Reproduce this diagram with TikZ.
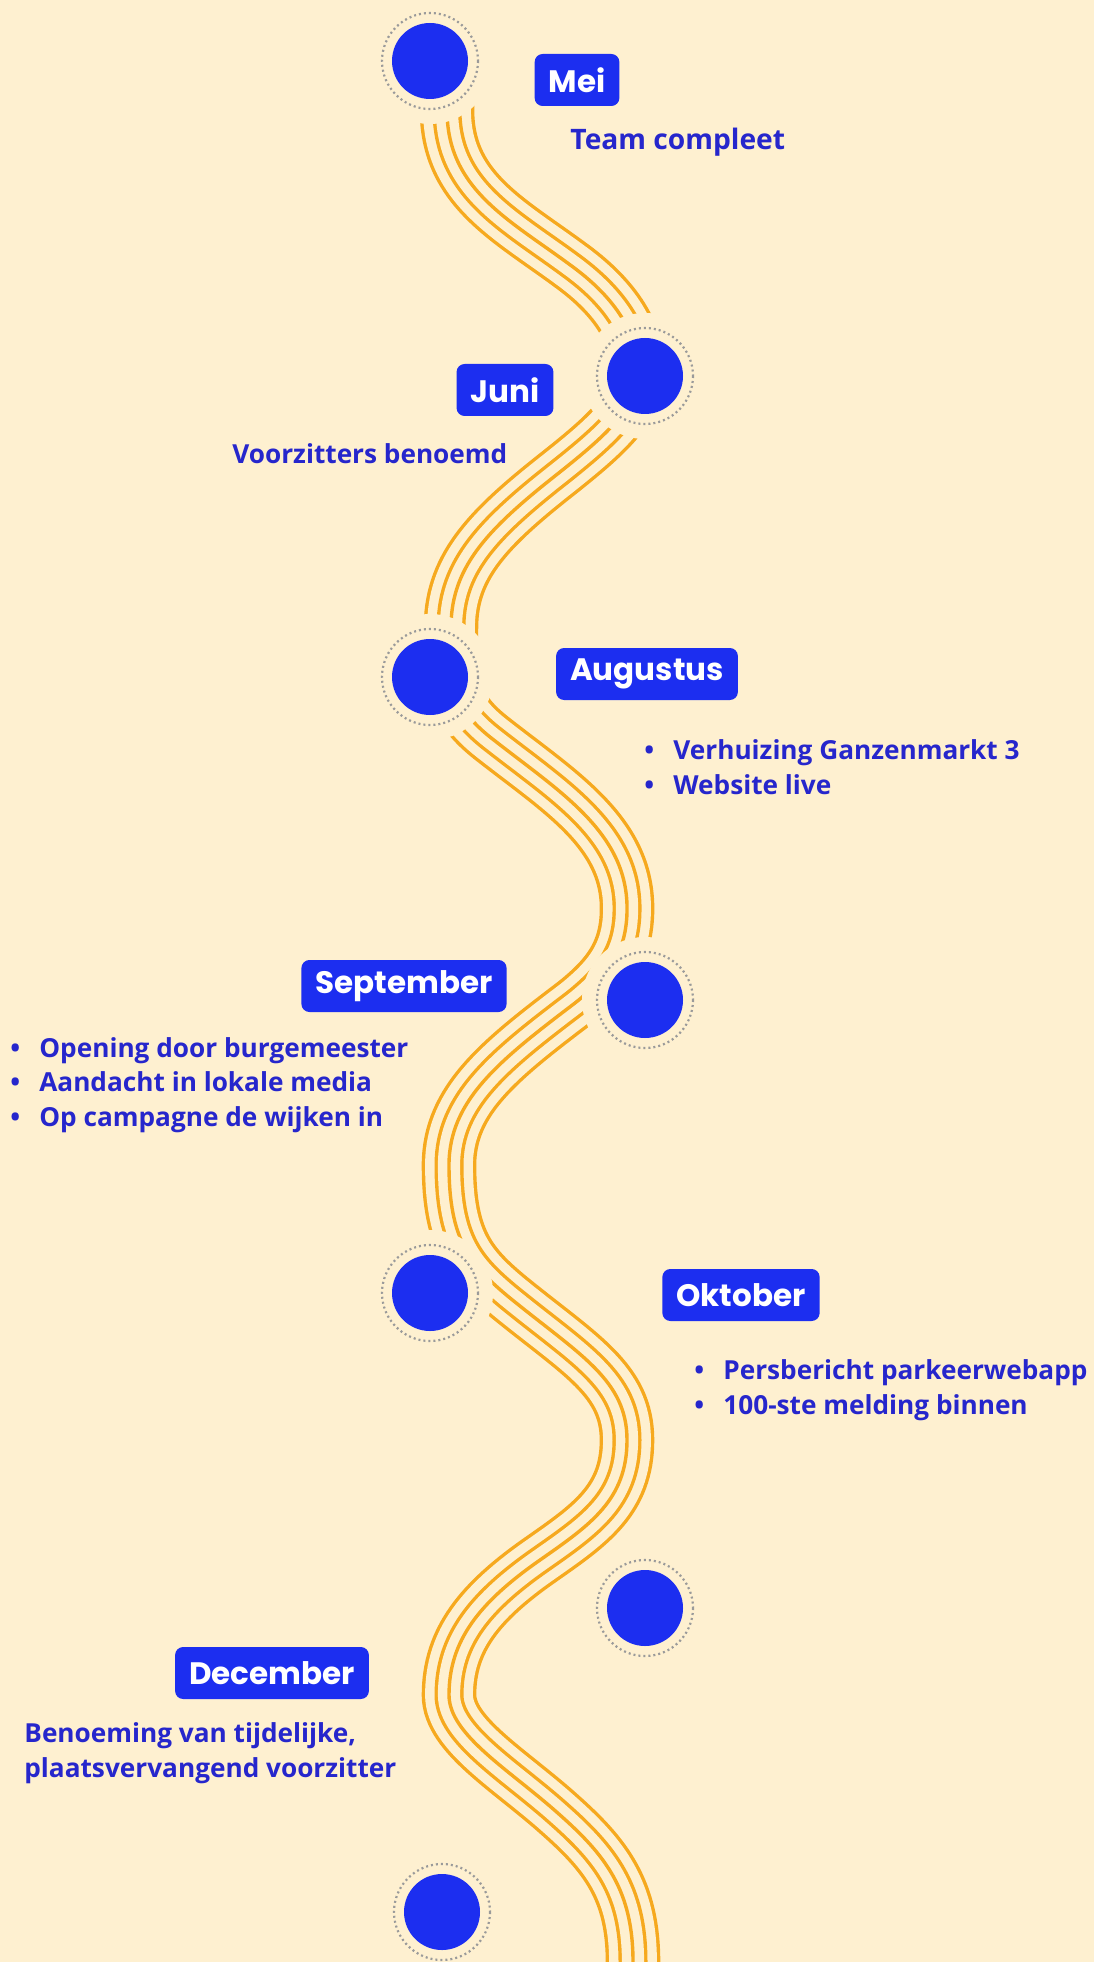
\documentclass[tikz,border=0pt]{standalone}
\usepackage{fontspec}
\setmainfont{Open Sans}
\newfontfamily\monthfont{Poppins}
\usetikzlibrary{positioning}

\definecolor{cream}{HTML}{FEF0D0}
\definecolor{discblue}{HTML}{1C2EF0}
\definecolor{textblue}{HTML}{2626CC}
\definecolor{bandorange}{HTML}{F6A91E}
\definecolor{ringgray}{HTML}{9A9A9A}

\tikzset{
  disc/.style={circle, fill=discblue, minimum size=38pt, inner sep=0pt},
  ring/.style={draw=ringgray, line width=1.1pt, dash pattern=on 1pt off 1.5pt},
  month/.style={rectangle, rounded corners=4pt, fill=discblue, text=white,
    font=\monthfont\bfseries\fontsize{15.5}{18}\selectfont,
    minimum height=26pt, inner xsep=7pt},
  note/.style={text=textblue, font=\bfseries\fontsize{13.1}{17.2}\selectfont,
    align=left, inner sep=0pt, anchor=west},
  band/.style={draw=bandorange, line width=27.3pt,
    postaction={draw=cream, line width=23.9pt},
    postaction={draw=bandorange, line width=14.5pt},
    postaction={draw=cream, line width=11.1pt},
    postaction={draw=bandorange, line width=1.7pt}},
}
\newcommand{\itm}{\makebox[14.5pt][l]{\textbullet}}

\begin{document}
\begin{tikzpicture}[x=0.5pt, y=-0.5pt]
  \fill[cream] (0,0) rectangle (1094,1962);
  \useasboundingbox (0,0) rectangle (1094,1962);

  % milestones
  \coordinate (m1) at (430,61);
  \coordinate (m2) at (645,376);
  \coordinate (m3) at (430,677);
  \coordinate (m4) at (645,1000);
  \coordinate (m5) at (430,1293);
  \coordinate (m6) at (645,1608);
  \coordinate (m7) at (442,1912);

  % wavy band
  \path[band] (447,40) -- (447,110)
    .. controls (447,190) and (510,220) .. (573,267)
    .. controls (615,298) and (640,335) .. (638,376)
    .. controls (636,410) and (600,440) .. (560,472)
    .. controls (490,527) and (452,565) .. (451,625)
    .. controls (450,680) and (450,705) .. (490,737)
    .. controls (557,790) and (625,830) .. (627,905)
    .. controls (628,950) and (610,975) .. (575,1003)
    .. controls (500,1060) and (449,1100) .. (449,1165)
    .. controls (449,1240) and (470,1265) .. (510,1298)
    .. controls (580,1355) and (627,1380) .. (627,1440)
    .. controls (627,1500) and (590,1525) .. (540,1560)
    .. controls (480,1602) and (449,1640) .. (449,1695)
    .. controls (449,1735) and (510,1770) .. (560,1815)
    .. controls (605,1855) and (633,1890) .. (633,1962)
    -- (633,1990);

  \foreach \m in {m1,m2,m3,m4,m5,m6,m7}{
    \fill[cream] (\m) circle (63);
    \draw[ring] (\m) circle (48);
    \node[disc] at (\m) {};
  }

  % months
  \node[month] (mei) at (577,80) {Mei};
  \node[month] (juni) at (505,390) {Juni};
  \node[month] (aug) at (647,674) {Augustus};
  \node[month] (sep) at (404,986) {September};
  \node[month] (okt) at (741,1295) {Oktober};
  \node[month] (dec) at (272,1673) {December};

  % notes
  \node[note, font=\bfseries\fontsize{14.1}{17.2}\selectfont] (tmei) at (570,142) {Team compleet};
  \node[note] (tjuni) at (232,454) {Voorzitters benoemd};
  \node[note] (taug) at (644,767) {\itm Verhuizing Ganzenmarkt 3\\ \itm Website live};
  \node[note] (tsep) at (10,1085) {\itm Opening door burgemeester\\ \itm Aandacht in lokale media\\ \itm Op campagne de wijken in};
  \node[note] (tokt) at (694,1390) {\itm Persbericht parkeerwebapp\\ \itm 100-ste melding binnen};
  \node[note] (tdec) at (24,1753) {Benoeming van tijdelijke,\\ plaatsvervangend voorzitter};
\end{tikzpicture}
\end{document}
